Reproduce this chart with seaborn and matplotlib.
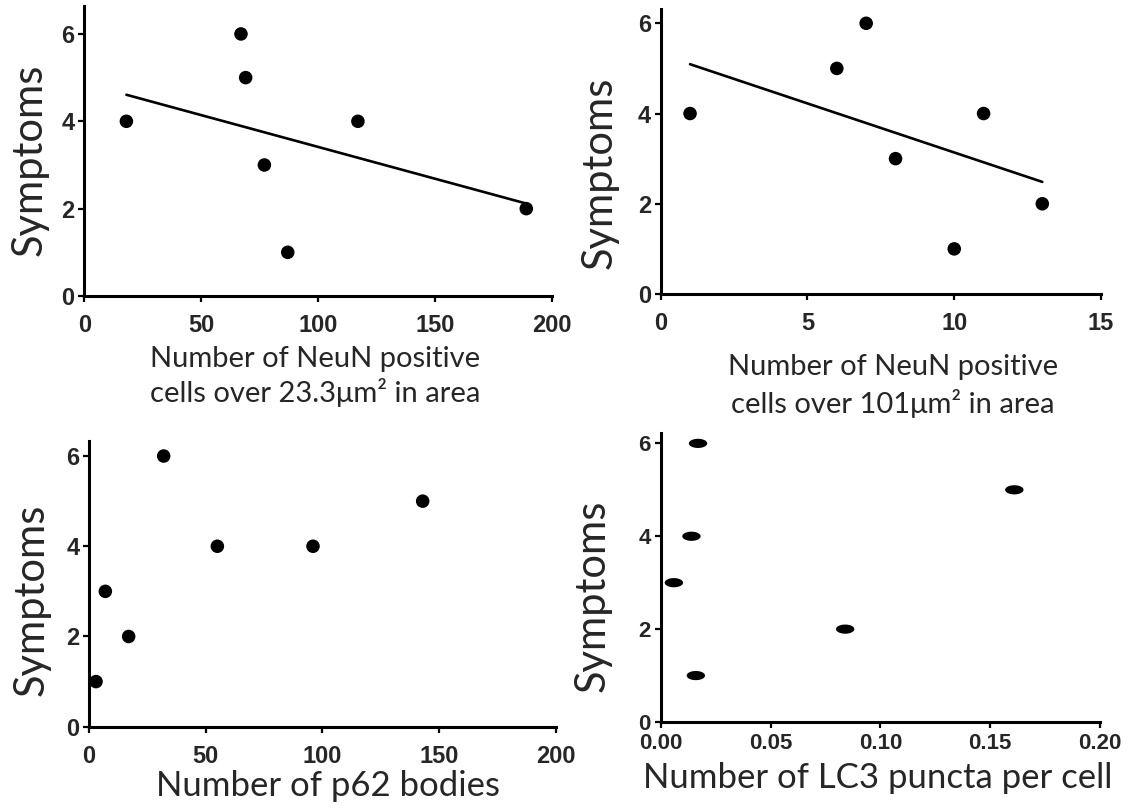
import numpy as np
import pandas as pd
import matplotlib
matplotlib.use("Agg")
import matplotlib.pyplot as plt
import seaborn as sns
from matplotlib.path import Path
from matplotlib.markers import MarkerStyle

# ---- data ----
neun23_x = [18, 67, 69, 77, 87, 117, 189]
neun23_y = [4, 6, 5, 3, 1, 4, 2]
neun101_x = [1, 6, 7, 8, 10, 11, 13]
neun101_y = [4, 5, 6, 3, 1, 4, 2]
p62_x = [3, 7, 17, 32, 55, 96, 143]
p62_y = [1, 3, 2, 6, 4, 4, 5]
lc3_x = [0.006, 0.014, 0.017, 0.016, 0.084, 0.161]
lc3_y = [3, 4, 6, 1, 2, 5]

y_label = "Symptoms"
x_label_1 = "Number of NeuN positive\ncells over 23.3\u03bcm\u00b2 in area"
x_label_2 = "Number of NeuN positive\ncells over 101\u03bcm\u00b2 in area"
x_label_3 = "Number of p62 bodies"
x_label_4 = "Number of LC3 puncta per cell"

xticks_1 = [0, 50, 100, 150, 200]
xticks_2 = [0, 5, 10, 15]
xticks_3 = [0, 50, 100, 150, 200]
xticks_4 = [0.00, 0.05, 0.10, 0.15, 0.20]
yticks = [0, 2, 4, 6]

sns.set_style("ticks")
plt.rcParams["font.family"] = ["Lato", "DejaVu Sans"]

W, H = 1133, 811
fig = plt.figure(figsize=(W / 100, H / 100), dpi=100)

def px_axes(x0, x1, y_top, y_bot):
    return fig.add_axes([x0 / W, 1 - y_bot / H, (x1 - x0) / W, (y_bot - y_top) / H])

ax1 = px_axes(84.3, 552, 6, 296)
ax2 = px_axes(660.7, 1101, 9.3, 294)
ax3 = px_axes(89, 555.7, 440.7, 726.7)
ax4 = px_axes(660.7, 1100, 432.7, 722)

dot_kws = dict(s=95, color="black", edgecolor="none", alpha=1)
line_kws = dict(color="black", lw=1.9)

df1 = pd.DataFrame({"x": neun23_x, "y": neun23_y})
df2 = pd.DataFrame({"x": neun101_x, "y": neun101_y})
df3 = pd.DataFrame({"x": p62_x, "y": p62_y})
df4 = pd.DataFrame({"x": lc3_x, "y": lc3_y})

sns.regplot(data=df1, x="x", y="y", ax=ax1, ci=None, truncate=True,
            scatter_kws=dot_kws, line_kws=line_kws)
sns.regplot(data=df2, x="x", y="y", ax=ax2, ci=None, truncate=True,
            scatter_kws=dot_kws, line_kws=line_kws)
sns.scatterplot(data=df3, x="x", y="y", ax=ax3, s=95, color="black",
                edgecolor="none", legend=False)

t = np.linspace(0, 2 * np.pi, 64)
ell = Path(np.column_stack([np.cos(t), 0.5 * np.sin(t)]), closed=True)
sns.scatterplot(data=df4, x="x", y="y", ax=ax4, s=175, color="black",
                edgecolor="none", marker=MarkerStyle(ell), legend=False)

cfg = [
    (ax1, xticks_1, (0, 200), (0, 6.64), x_label_1, (0.493, -0.279), (-0.116, 0.469), 17, 9, 21, 1.25),
    (ax2, xticks_2, (0, 15), (0, 6.31), x_label_2, (0.528, -0.322), (-0.138, 0.425), 17, 9, 21, 1.38),
    (ax3, xticks_3, (0, 200), (0, 6.34), x_label_3, (0.512, -0.207), (-0.122, 0.443), 17, 9, 25, 1.2),
    (ax4, xticks_4, (0, 0.2), (0, 6.23), x_label_4, (0.495, -0.194), (-0.156, 0.435), 16, 4, 25, 1.2),
]

for ax, xt, xl, yl, xlab, xlc, ylc, tfs, xpad, xfs, ls in cfg:
    ax.set_xlim(*xl)
    ax.set_ylim(*yl)
    ax.set_xticks(xt)
    ax.set_yticks(yticks)
    if ax is ax4:
        ax.set_xticklabels([f"{v:.2f}" for v in xt])
    else:
        ax.set_xticklabels([str(v) for v in xt])
    ax.set_yticklabels([str(v) for v in yticks])
    for sp in ["top", "right"]:
        ax.spines[sp].set_visible(False)
    for sp in ["left", "bottom"]:
        ax.spines[sp].set_linewidth(2.2)
        ax.spines[sp].set_color("black")
    ax.tick_params(axis="both", direction="out", length=4, width=1.6, color="black")
    ax.tick_params(axis="x", pad=xpad)
    ax.tick_params(axis="y", pad=3)
    for lab in ax.get_xticklabels() + ax.get_yticklabels():
        lab.set_fontfamily(["Liberation Sans", "DejaVu Sans"])
        lab.set_fontweight("bold")
        lab.set_fontsize(tfs)
    ax.set_xlabel(xlab, fontsize=xfs, va="center", ha="center", linespacing=ls)
    ax.xaxis.set_label_coords(*xlc)
    ax.set_ylabel(y_label, fontsize=30, va="center", ha="center")
    ax.yaxis.set_label_coords(*ylc)

fig.savefig("out.png", dpi=100, facecolor="white")
